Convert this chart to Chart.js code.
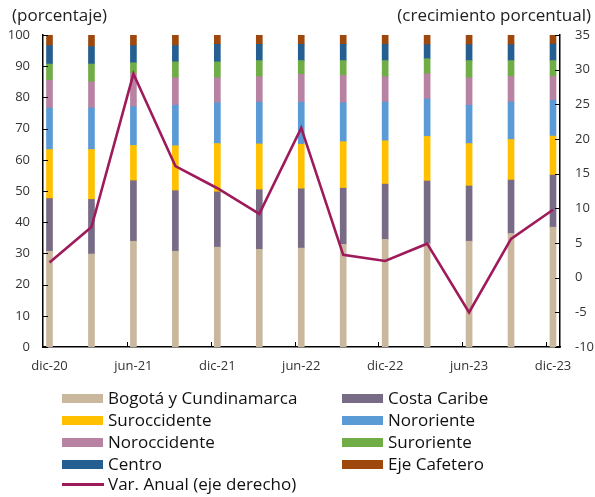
<!DOCTYPE html>
<html><head><meta charset="utf-8">
<script src="https://cdn.jsdelivr.net/npm/chart.js@4"></script>
<style>
html,body{margin:0;padding:0;background:#fff;}
#wrap{position:relative;width:595px;height:497px;font-family:"Open Sans",sans-serif;color:#000;}
#c{position:absolute;left:0;top:0;}
.ttl{position:absolute;font-size:17px;line-height:22px;color:#222;white-space:nowrap;}
#legend{position:absolute;left:0;top:0;width:595px;height:497px;}
.li{position:absolute;font-size:17px;white-space:nowrap;line-height:22px;color:#111;}
.sw{position:absolute;width:41px;height:9px;}
.ln{position:absolute;width:42px;height:3px;}
</style></head>
<body><div id="wrap">
<canvas id="c" width="595" height="380"></canvas>
<div class="ttl" style="left:12px;top:4px;">(porcentaje)</div>
<div class="ttl" style="right:4px;top:4px;">(crecimiento porcentual)</div>
<div id="legend"></div>
</div>
<script>
const categories = ["dic-20","mar-21","jun-21","sep-21","dic-21","mar-22","jun-22","sep-22","dic-22","mar-23","jun-23","sep-23","dic-23"];
const tickLabels = ["dic-20","jun-21","dic-21","jun-22","dic-22","jun-23","dic-23"];
const bogota       = [30.7,29.8,33.9,30.7,32.0,31.3,31.7,32.9,34.5,33.2,33.9,36.4,38.4];
const costaCaribe  = [16.9,17.5,19.4,19.4,17.7,19.1,19.0,18.0,17.7,20.0,17.7,17.1,16.7];
const suroccidente = [15.7,16.0,11.3,14.4,15.5,14.7,14.3,14.9,13.9,14.3,13.6,13.0,12.5];
const nororiente   = [13.3,13.3,12.4,13.0,13.1,13.4,13.5,12.5,12.4,12.0,12.3,12.0,11.5];
const noroccidente = [8.9,8.4,10.7,8.8,8.0,8.1,8.9,8.7,8.1,8.1,8.8,8.2,7.6];
const suroriente   = [5.2,5.7,3.4,5.1,5.1,5.2,4.4,4.8,5.2,4.8,5.5,5.1,5.1];
const centro       = [5.9,5.6,5.5,5.2,5.6,5.2,5.2,5.2,5.2,4.5,5.1,5.1,5.3];
const ejeCafetero  = [3.4,3.7,3.4,3.4,3.0,3.0,3.0,3.0,3.0,3.1,3.1,3.1,2.9];
const varAnual     = [2.2,7.3,29.4,16.1,12.9,9.2,21.6,3.3,2.4,4.9,-5.0,5.6,9.8];

const barSeries = [
  ["Bogotá y Cundinamarca", bogota, "#C9B89D"],
  ["Costa Caribe", costaCaribe, "#776B86"],
  ["Suroccidente", suroccidente, "#FFC000"],
  ["Nororiente", nororiente, "#5B9BD5"],
  ["Noroccidente", noroccidente, "#B883A3"],
  ["Suroriente", suroriente, "#70AD47"],
  ["Centro", centro, "#255E91"],
  ["Eje Cafetero", ejeCafetero, "#9E480E"]
];
const lineLabel = "Var. Anual (eje derecho)";
const lineColor = "#9E1A5A";
const FONT = '"Open Sans", sans-serif';

const datasets = barSeries.map(([label, vals, color]) => ({
  type: 'bar', label, data: vals.map((v,i)=>({x:i,y:v})),
  backgroundColor: color, borderWidth: 0, barThickness: 6, order: 2,
  xAxisID: 'x', yAxisID: 'y', stack: 's'
}));
datasets.push({
  type: 'line', label: lineLabel, data: varAnual.map((v,i)=>({x:i,y:v})),
  borderColor: lineColor, backgroundColor: lineColor, borderWidth: 2.6, pointRadius: 0,
  tension: 0, order: 1, xAxisID: 'x', yAxisID: 'y2'
});

const tickMarks = {
  id: 'tickMarks',
  afterDraw(chart) {
    const {ctx, chartArea: a, scales} = chart;
    ctx.save();
    ctx.strokeStyle = '#000'; ctx.lineWidth = 1;
    ctx.beginPath();
    for (let v = 0; v <= 100; v += 10) {
      const y = Math.round(scales.y.getPixelForValue(v)) + 0.5;
      ctx.moveTo(a.left, y); ctx.lineTo(a.left + 5, y);
    }
    for (let v = -10; v <= 35; v += 5) {
      const y = Math.round(scales.y2.getPixelForValue(v)) + 0.5;
      ctx.moveTo(a.right - 5, y); ctx.lineTo(a.right, y);
    }
    for (let i = 2; i < categories.length; i += 2) {
      const x = Math.round(scales.x.getPixelForValue(i - 0.16)) + 0.5;
      ctx.moveTo(x, a.bottom); ctx.lineTo(x, a.bottom - 5);
    }
    ctx.stroke();
    ctx.restore();
  }
};

new Chart(document.getElementById('c'), {
  data: { datasets },
  options: {
    responsive: false, animation: false,
    layout: { padding: { top: 35, left: 0, right: 0, bottom: 0 } },
    plugins: { legend: { display: false }, tooltip: { enabled: false } },
    scales: {
      x: {
        type: 'linear', stacked: true, offset: false, min: -0.155, max: 12.167,
        afterBuildTicks: s => { s.ticks = tickLabels.map((_, k) => ({ value: k * 2 })); },
        afterFit: s => { s.height = 33; },
        ticks: { callback: (v) => categories[v], color: '#333', font: { family: FONT, size: 13 }, maxRotation: 0, autoSkip: false, padding: 11 },
        grid: { display: false, drawTicks: false },
        border: { display: true, color: '#000', width: 1.5 }
      },
      y: {
        position: 'left', stacked: true, min: 0, max: 100,
        afterFit: s => { s.width = 43; },
        ticks: { stepSize: 10, color: '#333', font: { family: FONT, size: 13 }, padding: 13 },
        grid: { display: false, drawTicks: false },
        border: { display: true, color: '#000', width: 1.5 }
      },
      y2: {
        position: 'right', min: -10, max: 35,
        afterFit: s => { s.width = 35; },
        ticks: { stepSize: 5, color: '#333', font: { family: FONT, size: 13 }, padding: 15 },
        grid: { display: false, drawTicks: false },
        border: { display: true, color: '#000', width: 1.5 }
      }
    }
  },
  plugins: [tickMarks]
});

// legend
const leg = document.getElementById('legend');
const rowsY = [398, 420, 442, 464, 484];
function addItem(label, color, col, row, isLine) {
  const sx = col === 0 ? 62 : 342;
  const tx = col === 0 ? 108 : 388;
  const cy = rowsY[row];
  const s = document.createElement('div');
  s.className = isLine ? 'ln' : 'sw';
  s.style.background = color;
  s.style.left = sx + 'px';
  s.style.top = (cy - (isLine ? 1.5 : 4.5)) + 'px';
  leg.appendChild(s);
  const t = document.createElement('div');
  t.className = 'li';
  t.style.left = tx + 'px';
  t.style.top = (cy - 11) + 'px';
  t.textContent = label;
  leg.appendChild(t);
}
barSeries.forEach(([label, , color], i) => addItem(label, color, i % 2, Math.floor(i / 2), false));
addItem(lineLabel, lineColor, 0, 4, true);
</script>
</body></html>
